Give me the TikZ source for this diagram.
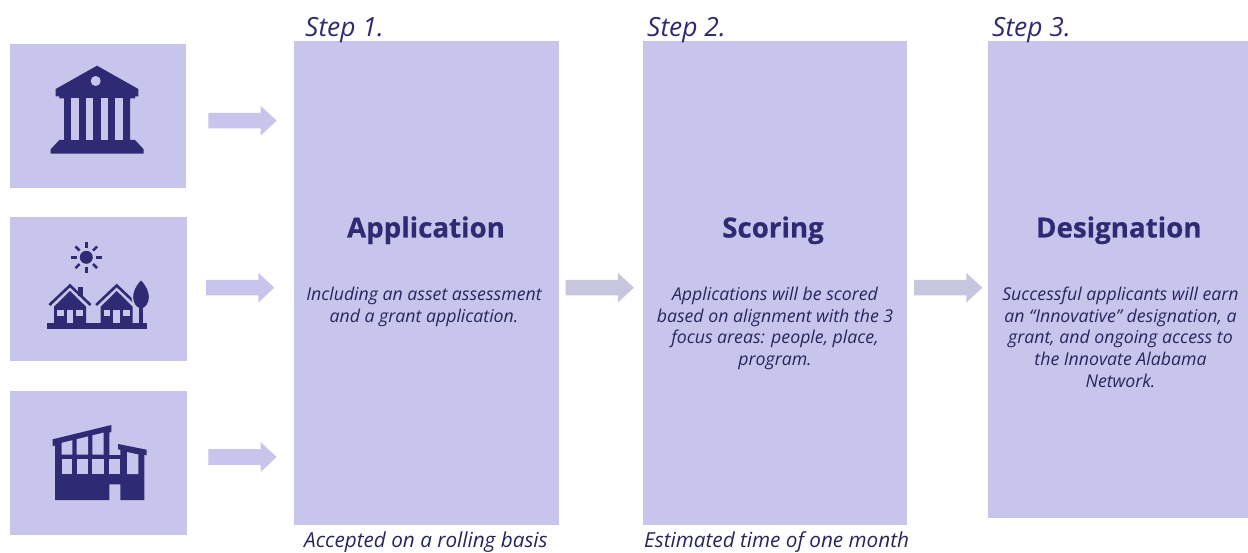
\documentclass[tikz,border=0pt]{standalone}
\usepackage{fontspec}
\setmainfont{Open Sans}
\definecolor{boxfill}{HTML}{C7C5EB}
\definecolor{dark}{HTML}{2E2A73}
\definecolor{bodyink}{HTML}{26265E}
\definecolor{greyarrow}{HTML}{C8C6DE}
\tikzset{
 x=1pt,y=-1pt,
 panel/.style={fill=boxfill,draw=none},
 icon/.style={fill=dark,draw=none},
 iconlight/.style={fill=boxfill,draw=none},
 steplabel/.style={text=dark,font=\fontsize{26.4}{30}\selectfont\itshape,anchor=base west,inner sep=0},
 titletext/.style={text=dark,font=\fontsize{27.7}{32}\selectfont\bfseries\addfontfeature{FakeBold=0.5},anchor=base,inner sep=0},
 bodytext/.style={text=bodyink,font=\fontsize{17.7}{21.6}\selectfont\itshape,align=center,anchor=north,inner sep=0},
 foot/.style={text=bodyink,font=\fontsize{20.7}{24}\selectfont\itshape,anchor=base west,inner sep=0},
}
\newcommand{\blockarrow}[3]{% x start, y centre, colour
 \fill[#3] (#1,#2-7.8) -- ++(52.4,0) -- ++(0,-7) -- (#1+68.4,#2) -- (#1+52.4,#2+14.8) -- ++(0,-7) -- (#1,#2+7.8) -- cycle;}
\begin{document}
\begin{tikzpicture}
\useasboundingbox (0,0) rectangle (1248,553);
% icon panels
\node[panel,minimum width=176pt,minimum height=144pt,anchor=north west,inner sep=0] (p1) at (10,43.5) {};
\node[panel,minimum width=177pt,minimum height=144pt,anchor=north west,inner sep=0] (p2) at (10,217) {};
\node[panel,minimum width=177pt,minimum height=144pt,anchor=north west,inner sep=0] (p3) at (10,391) {};
% big panels
\node[panel,minimum width=265pt,minimum height=484pt,anchor=north west,inner sep=0] (a) at (293.5,41) {};
\node[panel,minimum width=264pt,minimum height=484pt,anchor=north west,inner sep=0] (b) at (643,41) {};
\node[panel,minimum width=260pt,minimum height=477pt,anchor=north west,inner sep=0] (c) at (988,41) {};
% arrows
\blockarrow{208.3}{120.7}{boxfill}
\blockarrow{206}{287.7}{boxfill}
\blockarrow{208.3}{457}{boxfill}
\blockarrow{565.5}{287.7}{greyarrow}
\blockarrow{914}{287.7}{greyarrow}
% bank
\fill[icon] (97,65.7) -- (138.3,89) -- (138.3,96.3) -- (135,96.3) -- (135,98.3) -- (130,98.3) -- (130,140) -- (135,140) -- (143.7,149.3) -- (143.7,153.7) -- (50.7,153.7) -- (50.7,149.3) -- (59.3,140) -- (64,140) -- (64,98.3) -- (59.3,98.3) -- (59.3,96.3) -- (55.7,96.3) -- (55.7,89) -- cycle;
\foreach \xx in {71.3,86,100.7,115.3}
 \fill[iconlight] (\xx,98.3) rectangle ++(7.3,41.7);
\fill[iconlight] (95.7,81) circle[radius=5];
% sun and houses
\fill[icon] (86.3,257.3) circle[radius=6.5];
\foreach \a in {0,45,...,315}
 \draw[dark,line width=2.5pt] (86.3,257.3) ++(\a:9.5) -- ++(\a:5.8);
\foreach \dx in {0,46.7}{
 \fill[icon] (70+\dx,291) -- (86+\dx,306.7) -- (86+\dx,323) -- (54+\dx,323) -- (54+\dx,306.7) -- cycle;
 \draw[dark,line width=2.6pt] (49.4+\dx,305) -- (70+\dx,285.5) -- (90.6+\dx,305);
 \fill[iconlight] (57+\dx,309.7) rectangle ++(6.7,6.3);
 \fill[iconlight] (66.7+\dx,309.7) rectangle ++(6.6,13);
 \fill[iconlight] (76.3+\dx,309.7) rectangle ++(6.7,6.3);
}
\fill[icon] (78.3,286.7) rectangle (83,296);
\fill[icon] (47.3,322.7) rectangle (147.3,329);
\path[fill=dark,draw=boxfill,line width=1.6pt] (141,279.3) .. controls (135,285) and (132.3,291) .. (132.3,297) .. controls (132.3,304) and (136,309) .. (141,309) .. controls (146,309) and (149.7,304) .. (149.7,297) .. controls (149.7,291) and (147,285) .. (141,279.3) -- cycle;
\fill[icon] (139.3,305) rectangle (142.7,323);
% building
\fill[icon] (55,443.3) -- (109.3,430) -- (109.3,455) -- (120.3,455) -- (120.3,448) -- (144.3,453) -- (144.3,500) -- (120.3,500) -- (120.3,484.3) -- (109.3,484.3) -- (109.3,500) -- (55,500) -- cycle;
\fill[icon] (52.7,439.3) -- (111.3,425) -- (111.3,432) -- (52.7,446) -- cycle;
\fill[icon] (118,444) -- (146.7,449.7) -- (146.7,455.3) -- (118,449.3) -- cycle;
\fill[iconlight] (61.7,442.8) -- (72.3,440.2) -- (72.3,454.7) -- (61.7,454.7) -- cycle;
\fill[iconlight] (76.7,439.2) -- (88,436.4) -- (88,454.7) -- (76.7,454.7) -- cycle;
\fill[iconlight] (92.3,435.4) -- (103.7,432.6) -- (103.7,454.7) -- (92.3,454.7) -- cycle;
\foreach \xa/\xb in {61.7/72.3,76.7/88,92.3/103.7,109.3/120.3}
 \fill[iconlight] (\xa,459.3) rectangle (\xb,474);
\fill[iconlight] (127,452) -- (138.3,454.5) -- (138.3,474) -- (127,474) -- cycle;
% step labels
\node[steplabel] (s1) at (305,36.5) {Step 1.};
\node[steplabel] (s2) at (647,36.5) {Step 2.};
\node[steplabel] (s3) at (992,36.5) {Step 3.};
% titles
\node[titletext] (t1) at (426,237.5) {Application};
\node[titletext] (t2) at (773,237.5) {Scoring};
\node[titletext] (t3) at (1118.8,237.5) {Designation};
% bodies
\node[bodytext] (b1) at (424,287) {Including an asset assessment\\and a grant application.};
\node[bodytext] (b2) at (775,287) {Applications will be scored\\based on alignment with the 3\\focus areas: people, place,\\program.};
\node[bodytext] (b3) at (1120.5,287) {Successful applicants will earn\\an “Innovative” designation, a\\grant, and ongoing access to\\the Innovate Alabama\\Network.};
% feet
\node[foot] (f1) at (304,547.5) {Accepted on a rolling basis};
\node[foot] (f2) at (644,547.5) {Estimated time of one month};
\end{tikzpicture}
\end{document}
